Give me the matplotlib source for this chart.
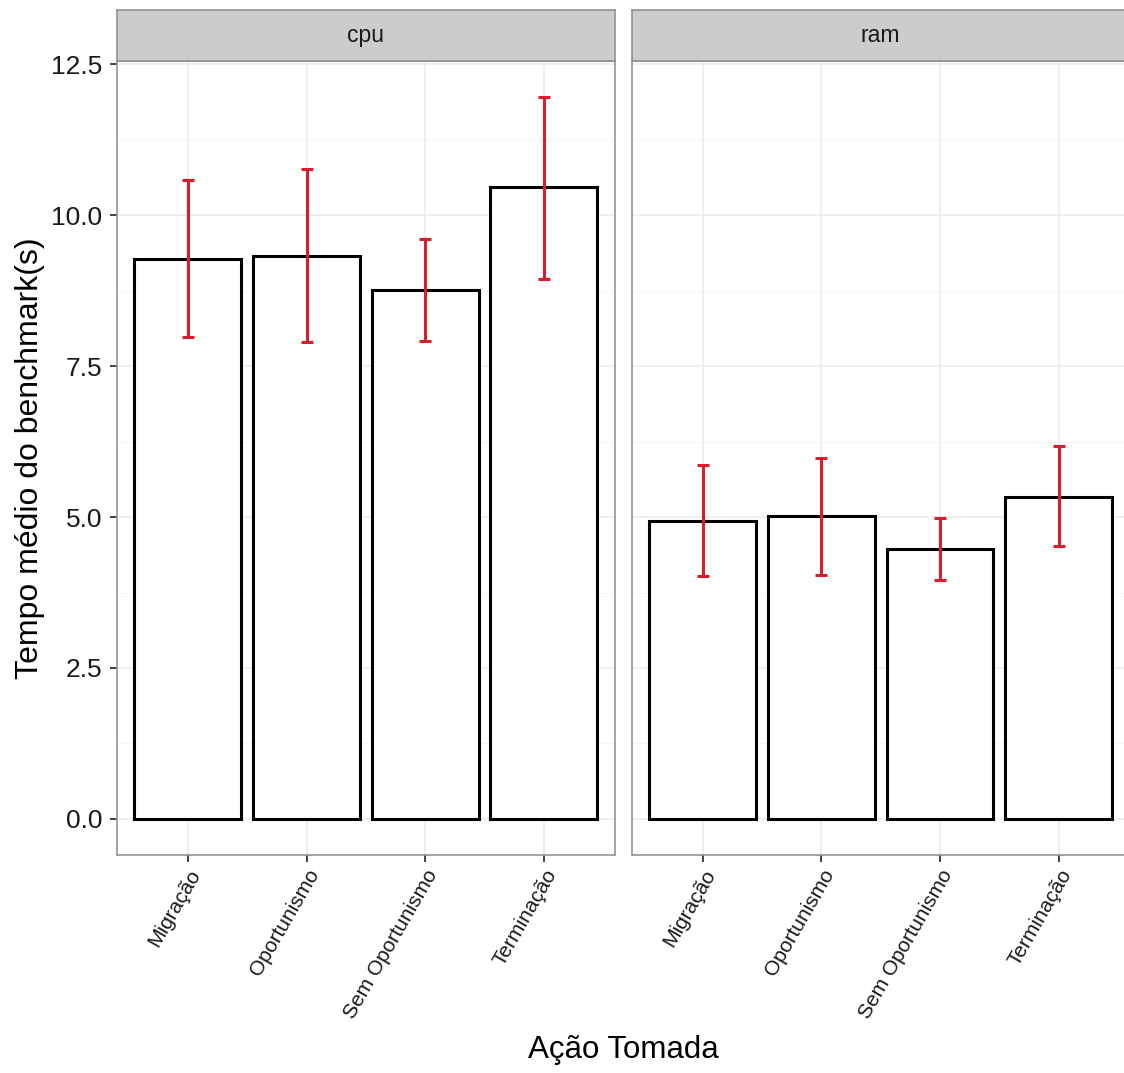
import matplotlib.pyplot as plt
from matplotlib.ticker import MultipleLocator, FormatStrFormatter

plt.rcParams['font.family'] = ['Liberation Sans', 'DejaVu Sans']

acoes = ['Migração', 'Oportunismo', 'Sem Oportunismo', 'Terminação']
recursos = ['cpu', 'ram']

# tempo médio e limites do intervalo de confiança
media_cpu = [9.28, 9.33, 8.76, 10.46]
inf_cpu = [7.98, 7.90, 7.92, 8.95]
sup_cpu = [10.58, 10.77, 9.60, 11.95]

media_ram = [4.94, 5.01, 4.47, 5.34]
inf_ram = [4.03, 4.04, 3.95, 4.52]
sup_ram = [5.87, 5.98, 4.99, 6.18]

dados = {
    'cpu': (media_cpu, inf_cpu, sup_cpu),
    'ram': (media_ram, inf_ram, sup_ram),
}

W, H = 1124, 1073
fig = plt.figure(figsize=(W / 100, H / 100), dpi=100)

larg = 498.3 / W
esquerdas = [116.7 / W, 631.5 / W]
base = 218 / H
alt = 793.6 / H

cor_borda = '#8C8C8C'
x = list(range(1, len(acoes) + 1))

for i, rec in enumerate(recursos):
    media, inf, sup = dados[rec]
    ax = fig.add_axes([esquerdas[i], base, larg, alt])
    ax.bar(x, media, width=0.9, color='white', edgecolor='black', linewidth=2.2, zorder=2)
    err = [[m - a for m, a in zip(media, inf)], [b - m for m, b in zip(media, sup)]]
    ax.errorbar(x, media, yerr=err, fmt='none', ecolor='#D81E2A', elinewidth=2.2,
                capsize=4.3, capthick=2.2, zorder=3)

    ax.set_xlim(0.4, 4.6)
    ax.set_ylim(-0.5975, 12.5475)
    ax.yaxis.set_major_locator(MultipleLocator(2.5))
    ax.yaxis.set_minor_locator(MultipleLocator(1.25))
    ax.yaxis.set_major_formatter(FormatStrFormatter('%.1f'))
    ax.set_xticks(x)
    ax.set_xticklabels(acoes, rotation=60, ha='right', va='top',
                       rotation_mode='anchor', fontsize=15, color='#1A1A1A')
    ax.grid(which='major', color='#EBEBEB', linewidth=1.1, zorder=0)
    ax.grid(which='minor', axis='y', color='#F3F3F3', linewidth=0.6, zorder=0)
    ax.set_axisbelow(True)
    ax.tick_params(axis='both', which='major', length=5, width=1.3, color='#333333',
                   labelsize=19, labelcolor='#1A1A1A', pad=3)
    ax.tick_params(axis='y', pad=5.5)
    ax.tick_params(axis='x', labelsize=15)
    ax.tick_params(which='minor', length=0)
    for s in ax.spines.values():
        s.set_color(cor_borda)
        s.set_linewidth(1.1)
    if i > 0:
        ax.tick_params(axis='y', labelleft=False, length=0)

    # faixa do painel
    sx = fig.add_axes([esquerdas[i], (H - 61.4) / H, larg, 51 / H])
    sx.set_facecolor('#CCCCCC')
    sx.set_xticks([])
    sx.set_yticks([])
    for s in sx.spines.values():
        s.set_color(cor_borda)
        s.set_linewidth(1.1)
    sx.text(0.5, 0.5, rec, ha='center', va='center', fontsize=16.5,
            color='#1A1A1A', transform=sx.transAxes)

fig.text(30 / W, 1 - 458 / H, 'Tempo médio do benchmark(s)', rotation=90,
         ha='center', va='center', fontsize=23)
fig.text(623 / W, 1 - 1050 / H, 'Ação Tomada', ha='center', va='center', fontsize=22.5)

fig.savefig('out.png', dpi=100)
